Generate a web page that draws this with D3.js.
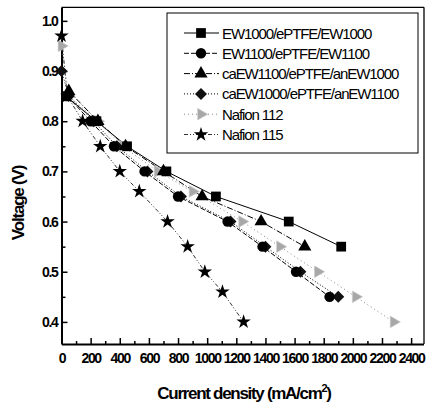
<!DOCTYPE html>
<html><head><meta charset="utf-8">
<script src="https://cdn.jsdelivr.net/npm/d3@7"></script>
<style>
html,body{margin:0;padding:0;background:#fff;}
svg{display:block;}
text{font-family:"Liberation Sans",Arial,sans-serif;fill:#000;}
</style></head>
<body>
<svg id="c" width="430" height="413"></svg>
<script>
// ---------- data ----------
const seriesNames = ["EW1000/ePTFE/EW1000","EW1100/ePTFE/EW1100","caEW1100/ePTFE/anEW1000","caEW1000/ePTFE/anEW1100","Nafion 112","Nafion 115"];
const ew1000Current = [30, 240, 450, 720, 1060, 1560, 1920];
const ew1000Voltage = [0.85, 0.80, 0.75, 0.70, 0.65, 0.60, 0.55];
const ew1100Current = [40, 200, 360, 570, 800, 1140, 1380, 1610, 1840];
const ew1100Voltage = [0.85, 0.80, 0.75, 0.70, 0.65, 0.60, 0.55, 0.50, 0.45];
const ca1100an1000Current = [50, 250, 440, 700, 965, 1370, 1670];
const ca1100an1000Voltage = [0.86, 0.80, 0.75, 0.70, 0.65, 0.60, 0.55];
const ca1000an1100Current = [0, 50, 220, 380, 590, 820, 1160, 1400, 1640, 1900];
const ca1000an1100Voltage = [0.90, 0.85, 0.80, 0.75, 0.70, 0.65, 0.60, 0.55, 0.50, 0.45];
const nafion112Current = [0, 50, 250, 420, 660, 900, 1240, 1500, 1760, 2020, 2280];
const nafion112Voltage = [0.95, 0.85, 0.80, 0.75, 0.70, 0.66, 0.60, 0.55, 0.50, 0.45, 0.40];
const nafion115Current = [0, 40, 145, 266, 400, 534, 728, 866, 984, 1105, 1250];
const nafion115Voltage = [0.97, 0.85, 0.80, 0.75, 0.70, 0.66, 0.60, 0.55, 0.50, 0.46, 0.40];
const xTickLabels = [0,200,400,600,800,1000,1200,1400,1600,1800,2000,2200,2400];
const xMinorTicks = d3.range(100, 2500, 200);
const yTickLabels = [0.4,0.5,0.6,0.7,0.8,0.9,1.0];
const yMinorTicks = [0.45,0.55,0.65,0.75,0.85,0.95];

const seriesCurrents = [ew1000Current, ew1100Current, ca1100an1000Current, ca1000an1100Current, nafion112Current, nafion115Current];
const seriesVoltages = [ew1000Voltage, ew1100Voltage, ca1100an1000Voltage, ca1000an1100Voltage, nafion112Voltage, nafion115Voltage];

// ---------- styles ----------
const rightTri = {draw(ctx, size){ const s=Math.sqrt(size/0.433); const h=s*0.866; ctx.moveTo(h*2/3,0); ctx.lineTo(-h/3,-s/2); ctx.lineTo(-h/3,s/2); ctx.closePath(); }};
const squareDiamond = {draw(ctx, size){ const r=Math.sqrt(size/2); ctx.moveTo(0,-r); ctx.lineTo(r,0); ctx.lineTo(0,r); ctx.lineTo(-r,0); ctx.closePath(); }};
const styles = [
  {sym:d3.symbolSquare, size:95, fill:"#000", dash:null, lc:"#000"},
  {sym:d3.symbolCircle, size:85, fill:"#000", dash:"5,2", lc:"#000"},
  {sym:d3.symbolTriangle, size:75, fill:"#000", dash:"6,2,1,2", lc:"#000"},
  {sym:squareDiamond, size:72, fill:"#111", dash:"1,2", lc:"#000"},
  {sym:rightTri, size:60, fill:"#a8a8a8", dash:"1,3", lc:"#888"},
  {sym:d3.symbolStar, size:65, fill:"#000", dash:"4,2,1,2,1,2", lc:"#333"}
];

const svg = d3.select("#c");
const x = d3.scaleLinear().domain([0, 2485]).range([61.5, 423.5]);
const y = d3.scaleLinear().domain([0.356, 1.027]).range([344, 7.3]);

// frame top/right
svg.append("line").attr("x1",61.5).attr("x2",424).attr("y1",7.3).attr("y2",7.3).attr("stroke","#000").attr("stroke-width",1.3);
svg.append("line").attr("x1",424).attr("x2",424).attr("y1",7.3).attr("y2",344).attr("stroke","#000").attr("stroke-width",1.3);

// axes
svg.append("g").attr("transform","translate(0,344)")
  .call(d3.axisBottom(x).tickValues(xTickLabels).tickSize(-6).tickSizeOuter(0).tickPadding(9).tickFormat(d3.format("d")));
svg.append("g").attr("transform","translate(0,344)")
  .call(d3.axisBottom(x).tickValues(xMinorTicks).tickSize(-3).tickSizeOuter(0).tickFormat(""))
  .select(".domain").remove();
svg.append("g").attr("transform","translate(61.5,0)")
  .call(d3.axisLeft(y).tickValues(yTickLabels).tickSize(-6).tickSizeOuter(0).tickPadding(4).tickFormat(d3.format(".1f")));
svg.append("g").attr("transform","translate(61.5,0)")
  .call(d3.axisLeft(y).tickValues(yMinorTicks).tickSize(-4).tickSizeOuter(0).tickFormat(""))
  .select(".domain").remove();
svg.selectAll(".domain").attr("stroke-width",2);
svg.selectAll(".tick line").attr("stroke-width",1.5);
svg.selectAll(".tick text").attr("font-size",14).attr("font-family","'Liberation Sans',Arial,sans-serif").style("letter-spacing","-1.3px").attr("font-weight","bold");

// series lines and markers
const line = d3.line().x(d=>x(d[0])).y(d=>y(d[1]));
seriesCurrents.forEach((cur,i)=>{
  const pts = cur.map((c,j)=>[c, seriesVoltages[i][j]]);
  const st = styles[i];
  svg.append("path").datum(pts).attr("d",line).attr("fill","none")
    .attr("stroke",st.lc).attr("stroke-width",1).attr("stroke-dasharray",st.dash);
});
[4,3,1,2,0,5].forEach(i=>{
  const st = styles[i];
  const pts = seriesCurrents[i].map((c,j)=>[c, seriesVoltages[i][j]]);
  svg.append("g").selectAll("path").data(pts).join("path")
    .attr("transform",d=>`translate(${x(d[0])},${y(d[1])})`)
    .attr("d",d3.symbol(st.sym, st.size)).attr("fill",st.fill)
    .attr("stroke", i===4 ? "#ccc" : "none").attr("stroke-width",0.6);
});

// legend
svg.append("rect").attr("x",167).attr("y",13).attr("width",251).attr("height",140)
  .attr("fill","#fff").attr("stroke","#000").attr("stroke-width",1);
seriesNames.forEach((name,i)=>{
  const st = styles[i];
  const yy = 33 + i*20.3;
  svg.append("line").attr("x1",184).attr("x2",219).attr("y1",yy).attr("y2",yy)
    .attr("stroke",st.lc).attr("stroke-width",1).attr("stroke-dasharray",st.dash);
  svg.append("path").attr("transform",`translate(201,${yy})`).attr("d",d3.symbol(st.sym, st.size))
    .attr("fill",st.fill).attr("stroke", i===4 ? "#ccc" : "none").attr("stroke-width",0.6);
  svg.append("text").attr("x",222).attr("y",yy+5.5).attr("font-size",15)
    .style("letter-spacing","-1.1px").text(name);
});

// axis titles
svg.append("text").attr("transform","translate(24,203) rotate(-90)").attr("text-anchor","middle")
  .attr("font-size",17).attr("font-weight","bold").style("letter-spacing","-1.2px").text("Voltage (V)");
const xt = svg.append("text").attr("x",244).attr("y",399).attr("text-anchor","middle")
  .attr("font-size",17).attr("font-weight","bold").style("letter-spacing","-1.3px");
xt.append("tspan").text("Current density (mA/cm");
xt.append("tspan").attr("dy",-7).attr("font-size",11).text("2");
xt.append("tspan").attr("dy",7).text(")");
</script>
</body></html>
